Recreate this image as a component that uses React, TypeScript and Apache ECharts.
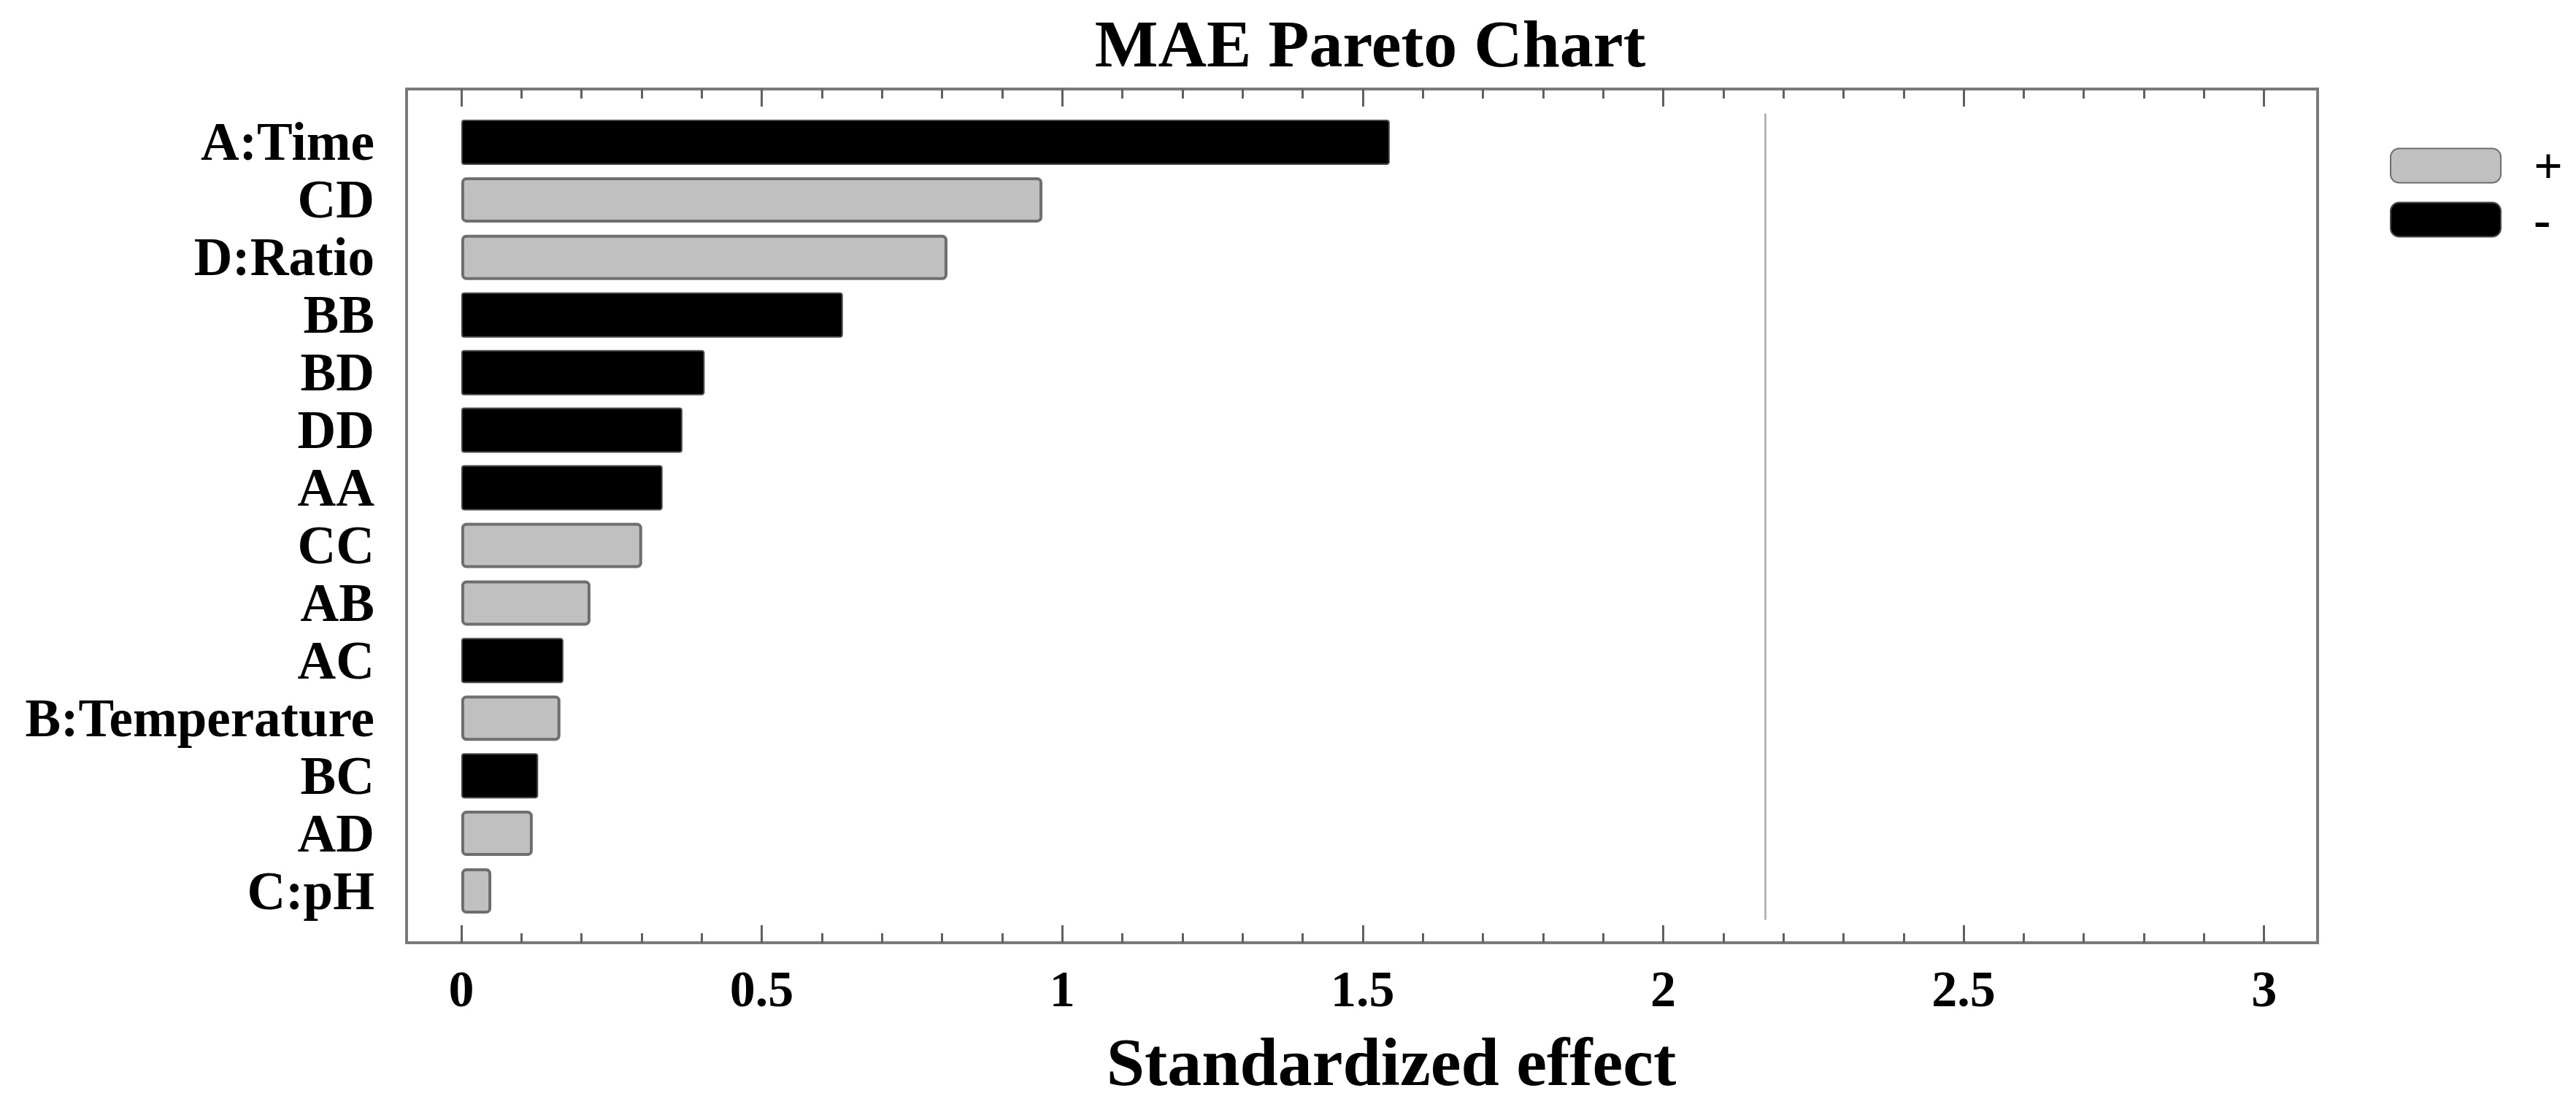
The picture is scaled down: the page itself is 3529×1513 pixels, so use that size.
import React, { useEffect, useRef } from "react";
import * as echarts from "echarts";

const categories = [
  "A:Time", "CD", "D:Ratio", "BB", "BD", "DD", "AA",
  "CC", "AB", "AC", "B:Temperature", "BC", "AD", "C:pH",
];
const effects = [
  1.545, 0.967, 0.809, 0.635, 0.405, 0.368, 0.335,
  0.301, 0.215, 0.170, 0.165, 0.128, 0.119, 0.050,
];
const signs = ["-", "+", "+", "-", "-", "-", "-", "+", "+", "-", "+", "-", "+", "+"];
const criticalValue = 2.174;
const majorTicks = [0, 0.5, 1, 1.5, 2, 2.5, 3];
const minorTicks = [
  0.1, 0.2, 0.3, 0.4, 0.6, 0.7, 0.8, 0.9, 1.1, 1.2, 1.3, 1.4,
  1.6, 1.7, 1.8, 1.9, 2.1, 2.2, 2.3, 2.4, 2.6, 2.7, 2.8, 2.9,
];
const xMin = -0.091;
const xMax = 3.089;

const FONT = "'Liberation Serif', 'Times New Roman', serif";

export default function App() {
  const ref = useRef<HTMLDivElement>(null);
  useEffect(() => {
    if (!ref.current) return;
    const chart = echarts.init(ref.current, null, { renderer: "svg" });
    const frame = { left: 557, top: 122, width: 2618, height: 1170 };
    const tickColor = "#606060";
    const mk = (pos: string, vals: number[], len: number, labels: boolean, named: boolean) => ({
      type: "value",
      gridIndex: 0,
      position: pos,
      min: xMin,
      max: xMax,
      axisLine: { show: false },
      splitLine: { show: false },
      axisTick: {
        show: true,
        inside: true,
        length: len,
        customValues: vals,
        lineStyle: { color: tickColor, width: 3 },
      },
      axisLabel: labels
        ? {
            show: true,
            customValues: majorTicks,
            fontFamily: FONT,
            fontWeight: "bold",
            fontSize: 70,
            color: "#000",
            margin: 28,
          }
        : { show: false },
      ...(named
        ? {
            name: "Standardized effect",
            nameLocation: "middle",
            nameGap: 116,
            nameTextStyle: {
              fontFamily: FONT,
              fontWeight: "bold",
              fontSize: 94,
              color: "#000",
              padding: [0, 0, 0, 80],
            },
          }
        : {}),
    });
    const plusData = effects.map((v, i) => (signs[i] === "+" ? v : null));
    const minusData = effects.map((v, i) => (signs[i] === "-" ? v : null));
    chart.setOption({
      animation: false,
      backgroundColor: "#fff",
      graphic: [
        {
          type: "text",
          style: {
            text: "MAE Pareto Chart",
            x: 1877,
            y: 60,
            textAlign: "center",
            textVerticalAlign: "middle",
            fontFamily: FONT,
            fontWeight: "bold",
            fontSize: 92,
            fill: "#000",
          },
        },
      ],
      legend: {
        data: ["+", "-"],
        orient: "vertical",
        left: 3269,
        top: 187,
        itemWidth: 151,
        itemHeight: 47,
        itemGap: 4,
        textStyle: {
          fontFamily: FONT,
          fontWeight: "bold",
          fontSize: 70,
          lineHeight: 47,
          color: "#000",
          padding: [0, 0, 0, 40],
        },
      },
      grid: [
        {
          ...frame,
          show: true,
          borderColor: "#7a7a7a",
          borderWidth: 4,
          backgroundColor: "#fff",
        },
        { left: 557, width: 2618, top: 155.5, height: 1105 },
      ],
      xAxis: [
        mk("bottom", majorTicks, 24, true, true),
        mk("bottom", minorTicks, 13, false, false),
        mk("top", majorTicks, 24, false, false),
        mk("top", minorTicks, 13, false, false),
        { type: "value", gridIndex: 1, min: xMin, max: xMax, show: false },
      ],
      yAxis: [
        { type: "value", gridIndex: 0, show: false },
        {
          type: "category",
          gridIndex: 1,
          inverse: true,
          data: categories,
          axisLine: { show: false },
          axisTick: { show: false },
          splitLine: { show: false },
          axisLabel: {
            interval: 0,
            fontFamily: FONT,
            fontWeight: "bold",
            fontSize: 73,
            color: "#000",
            margin: 44,
          },
        },
      ],
      series: [
        {
          name: "+",
          type: "bar",
          xAxisIndex: 4,
          yAxisIndex: 1,
          data: plusData,
          barWidth: 62,
          barGap: "-100%",
          itemStyle: {
            color: "#c0c0c0",
            borderColor: "#6e6e6e",
            borderWidth: 4,
            borderRadius: 5,
          },
          markLine: {
            silent: true,
            symbol: "none",
            label: { show: false },
            lineStyle: { color: "#b5b5b5", width: 3, type: "solid" },
            data: [{ xAxis: criticalValue }],
          },
        },
        {
          name: "-",
          type: "bar",
          xAxisIndex: 4,
          yAxisIndex: 1,
          data: minusData,
          barWidth: 62,
          barGap: "-100%",
          itemStyle: {
            color: "#000",
            borderColor: "#4a4a4a",
            borderWidth: 2,
            borderRadius: 3,
          },
        },
      ],
    });
    return () => chart.dispose();
  }, []);
  return (
    <div
      ref={ref}
      style={{ position: "absolute", left: 0, top: 0, width: 3529, height: 1513 }}
    />
  );
}
